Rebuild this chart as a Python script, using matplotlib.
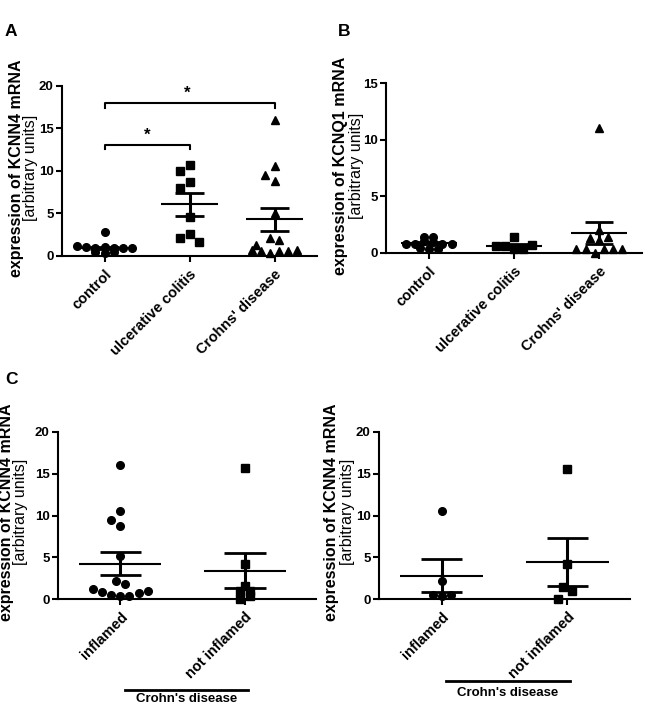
import numpy as np
import matplotlib.pyplot as plt
from matplotlib.lines import Line2D

plt.rcParams['font.family'] = ['Liberation Sans', 'DejaVu Sans']

# ---- data ----
# panel A: KCNN4
a_groups = ['control', 'ulcerative colitis', "Crohns' disease"]
a_control = [2.8, 1.1, 1.0, 0.95, 1.0, 0.9, 0.95, 0.9, 0.47, 0.3, 0.45]
a_uc = [10.6, 10.0, 8.0, 8.7, 4.5, 2.6, 2.1, 1.6]
a_cd = [16.0, 10.5, 9.5, 8.8, 5.0, 2.1, 1.8, 1.2, 0.7, 0.5, 0.3, 0.6, 0.6, 0.65]
a_means = [0.95, 6.05, 4.3]
a_sems = [0.12, 1.33, 1.35]

# panel B: KCNQ1
b_groups = ['control', 'ulcerative colitis', "Crohns' disease"]
b_control = [0.75, 1.4, 1.35, 0.8, 1.0, 0.95, 0.8, 0.75, 0.4, 0.35, 0.3]
b_uc = [1.4, 0.55, 0.6, 0.3, 0.3, 0.7]
b_cd = [11.0, 2.0, 1.3, 1.1, 1.4, 0.35, 0.3, 0.0, 0.3, 0.3, 0.3]
b_means = [0.88, 0.62, 1.75]
b_sems = [0.08, 0.12, 0.95]

# panel C: KCNN4 in Crohn's disease, inflamed vs not inflamed
c_groups = ['inflamed', 'not inflamed']
c1_infl = [16.1, 10.5, 9.5, 8.8, 5.2, 2.2, 1.8, 1.2, 0.8, 0.5, 0.4, 0.4, 0.7, 0.9]
c1_not = [15.65, 4.2, 1.5, 0.9, 0.0, 0.35, 1.0]
c1_means = [4.25, 3.38]
c1_sems = [1.35, 2.1]

c2_infl = [10.5, 2.2, 0.5, 0.4, 0.5]
c2_not = [15.6, 4.2, 1.4, 1.0, 0.05]
c2_means = [2.8, 4.45]
c2_sems = [1.95, 2.9]

W, H = 648, 705
MS = 5.5                      # marker size in points
MS_PX = MS * 100 / 72.0
fig = plt.figure(figsize=(W / 100.0, H / 100.0), dpi=100)


def px_axes(x0, x1, ytop, ybot):
    ax = fig.add_axes([x0 / W, 1 - ybot / H, (x1 - x0) / W, (ybot - ytop) / H])
    ax.h_px = ybot - ytop
    ax.w_px = x1 - x0
    return ax


def swarm(vals, mh, step):
    # prism-like scatter: close values form centred rows, lone points dodge sideways
    vals = np.asarray(vals, dtype=float)
    order = sorted(range(len(vals)), key=lambda i: -vals[i])
    rows = []
    for i in order:
        if rows and vals[rows[-1][-1]] - vals[i] <= 0.45 * mh:
            rows[-1].append(i)
        else:
            rows.append([i])
    offs = np.zeros(len(vals))
    placed = []
    cand = [0]
    for j in range(1, 10):
        cand += [-j, j]
    for r in rows:
        r = sorted(r)
        if len(r) > 1:
            for n, i in enumerate(r):
                offs[i] = n - (len(r) - 1) / 2.0
                placed.append((offs[i], vals[i]))
        else:
            i = r[0]
            for k in cand:
                if all(not (abs(kk - k) < 1 and abs(vv - vals[i]) < 1.2 * mh) for kk, vv in placed):
                    break
            offs[i] = k
            placed.append((k, vals[i]))
    return offs * step


def plotGroup(ax, x, vals, mean, sem, marker, ymax, nx):
    mh = MS_PX / (ax.h_px / ymax)
    step = (MS_PX + 1.5) / (ax.w_px / nx)
    offs = swarm(vals, mh, step)
    ax.plot(x + offs, vals, linestyle='none', marker=marker, ms=MS,
            color='black', clip_on=False, zorder=3)
    ax.hlines(mean, x - 0.33, x + 0.33, color='black', lw=1.5, zorder=4)
    ax.hlines([mean - sem, mean + sem], x - 0.165, x + 0.165, color='black', lw=2, zorder=4)
    ax.vlines(x, mean - sem, mean + sem, color='black', lw=2.2, zorder=4)


def styleAx(ax, ymax, yticks, labels, xmax):
    for s in ['top', 'right']:
        ax.spines[s].set_visible(False)
    for s in ['left', 'bottom']:
        ax.spines[s].set_linewidth(1.5)
    ax.set_ylim(0, ymax)
    ax.set_xlim(-0.5, xmax)
    ax.set_yticks(yticks)
    ax.set_xticks(range(len(labels)))
    ax.set_xticklabels(labels, rotation=45, ha='right', rotation_mode='anchor',
                       fontweight='bold', fontsize=10.5)
    for t in ax.get_yticklabels():
        t.set_fontweight('bold')
        t.set_fontsize(9.5)
    ax.tick_params(direction='out', length=4, width=1.5, pad=2)
    ax.tick_params(axis='x', pad=4)


def ylab(x1, x2, yc, gene):
    fig.text(x1 / W, 1 - yc / H, 'expression of %s mRNA' % gene, rotation=90,
             ha='center', va='center', fontsize=11.5, fontweight='bold')
    fig.text(x2 / W, 1 - yc / H, '[arbitrary units]', rotation=90,
             ha='center', va='center', fontsize=11.5)


# ---- panel A ----
axA = px_axes(62, 317, 85.5, 255.7)
for i, (v, m) in enumerate(zip([a_control, a_uc, a_cd], ['o', 's', '^'])):
    plotGroup(axA, i, v, a_means[i], a_sems[i], m, 20, 3)
styleAx(axA, 20, [0, 5, 10, 15, 20], a_groups, 2.5)
# significance brackets
for (x0, x1, yb) in [(0, 1, 13.0), (0, 2, 17.9)]:
    axA.plot([x0, x0, x1, x1], [yb - 0.5, yb, yb, yb - 0.5], color='black', lw=1.5)
    axA.text((x0 + x1) / 2.0 - (0.03 if x1 == 2 else 0), yb + 0.3, '*', ha='center',
             va='bottom', fontsize=12, fontweight='bold')
ylab(17, 31, 168, 'KCNN4')
fig.text(11 / W, 1 - 32 / H, 'A', ha='center', va='center', fontsize=12.5, fontweight='bold')

# ---- panel B ----
axB = px_axes(386, 642, 83.3, 252.7)
for i, (v, m) in enumerate(zip([b_control, b_uc, b_cd], ['o', 's', '^'])):
    plotGroup(axB, i, v, b_means[i], b_sems[i], m, 15, 3)
styleAx(axB, 15, [0, 5, 10, 15], b_groups, 2.5)
ylab(341, 356, 166, 'KCNQ1')
fig.text(344 / W, 1 - 32 / H, 'B', ha='center', va='center', fontsize=12.5, fontweight='bold')

# ---- panel C left ----
axC1 = px_axes(58, 316, 432, 599)
plotGroup(axC1, 0, c1_infl, c1_means[0], c1_sems[0], 'o', 20, 2.07)
plotGroup(axC1, 1, c1_not, c1_means[1], c1_sems[1], 's', 20, 2.07)
styleAx(axC1, 20, [0, 5, 10, 15, 20], c_groups, 1.57)
ylab(7, 21, 512, 'KCNN4')
fig.text(11 / W, 1 - 380 / H, 'C', ha='center', va='center', fontsize=12.5, fontweight='bold')

# ---- panel C right ----
axC2 = px_axes(379, 630, 432, 599)
plotGroup(axC2, 0, c2_infl, c2_means[0], c2_sems[0], 'o', 20, 2.0)
plotGroup(axC2, 1, c2_not, c2_means[1], c2_sems[1], 's', 20, 2.0)
styleAx(axC2, 20, [0, 5, 10, 15, 20], c_groups, 1.5)
ylab(331, 347, 512, 'KCNN4')

# group bars under panel C
fig.add_artist(Line2D([125 / W, 248 / W], [1 - 690 / H, 1 - 690 / H], color='black', lw=2))
fig.text(186.5 / W, 1 - 704.5 / H, "Crohn's disease", ha='center', va='bottom',
         fontsize=9.5, fontweight='bold')
fig.add_artist(Line2D([446 / W, 570 / W], [1 - 681 / H, 1 - 681 / H], color='black', lw=2))
fig.text(508 / W, 1 - 693 / H, "Crohn's disease", ha='center', va='center',
         fontsize=9.5, fontweight='bold')

fig.savefig('out.png', dpi=100, facecolor='white')
